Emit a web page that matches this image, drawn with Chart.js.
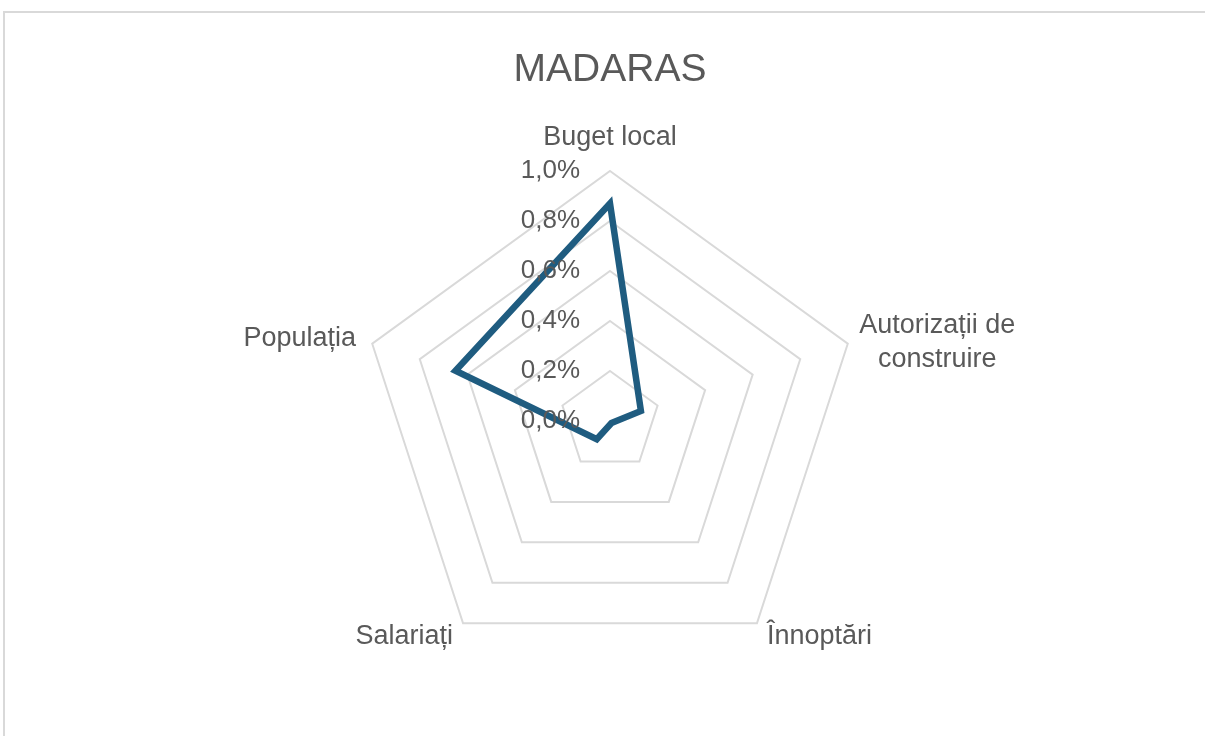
<!DOCTYPE html>
<html>
<head>
<meta charset="utf-8">
<title>MADARAS</title>
<script src="https://cdn.jsdelivr.net/npm/chart.js@4/dist/chart.umd.min.js"></script>
<style>
  html, body { margin: 0; padding: 0; background: #ffffff; overflow: hidden; }
  #frame {
    position: absolute; left: 3px; top: 11px; width: 1300px; height: 800px;
    border-left: 2px solid #d9d9d9; border-top: 2px solid #d9d9d9;
  }
  #chart { position: absolute; left: 0; top: 0; }
</style>
</head>
<body>
<div id="frame"></div>
<canvas id="chart" width="1205" height="736"></canvas>
<script>
// Indicator categories (axis labels, split on lines where they wrap)
const categories = [
  ['Buget local'],
  ['Autorizații de', 'construire'],
  ['Înnoptări'],
  ['Salariați'],
  ['Populația']
];
// Share of the county total, in percent
const madarasValues = [0.87, 0.13, 0.01, 0.09, 0.65];
// Radial axis range and step, in percent
const axisMin = 0;
const axisMax = 1.0;
const axisStep = 0.2;

const textColor = '#595959';
const labelFont = '"Liberation Sans", Arial, sans-serif';

function formatPercent(v) {
  return v.toFixed(1).replace('.', ',') + '%';
}

// Draws the category labels around the web and the percentage ticks on the vertical axis
const radarText = {
  id: 'radarText',
  afterDatasetsDraw(chart) {
    const scale = chart.scales.r;
    const ctx = chart.ctx;
    ctx.save();
    ctx.fillStyle = textColor;

    // category labels
    ctx.font = '27px ' + labelFont;
    const lineH = 34;
    categories.forEach((lines, i) => {
      const multi = lines.length > 1;
      const p = scale.getPointPosition(i, scale.drawingArea + (multi ? 12 : 17));
      const dx = Math.cos(p.angle);
      const blockH = lines.length * lineH;
      let widest = 0;
      lines.forEach(l => { widest = Math.max(widest, ctx.measureText(l).width); });
      let cx, top;
      if (Math.abs(dx) < 0.01) {           // top
        cx = p.x;
        top = p.y + 1 - blockH;
      } else if (dx > 0) {                 // right side
        cx = p.x + widest / 2;
        top = p.y - blockH / 2 + (multi ? 3 : 0);
      } else {                             // left side
        cx = p.x - widest / 2;
        top = p.y - blockH / 2;
      }
      ctx.textAlign = 'center';
      ctx.textBaseline = 'middle';
      lines.forEach((l, k) => {
        ctx.fillText(l, cx, top + lineH * k + lineH / 2);
      });
    });

    // tick labels, right-aligned just left of the vertical axis
    ctx.font = '26px ' + labelFont;
    ctx.textAlign = 'right';
    ctx.textBaseline = 'middle';
    scale.ticks.forEach(t => {
      const d = scale.getDistanceFromCenterForValue(t.value);
      ctx.fillText(formatPercent(t.value), scale.xCenter - 30, scale.yCenter - d);
    });
    ctx.restore();
  }
};

new Chart(document.getElementById('chart'), {
  type: 'radar',
  data: {
    labels: categories,
    datasets: [{
      label: 'MADARAS',
      data: madarasValues,
      borderColor: '#1F5C80',
      borderWidth: 6.5,
      borderJoinStyle: 'miter',
      fill: false,
      pointRadius: 0,
      pointHoverRadius: 0,
      tension: 0
    }]
  },
  options: {
    responsive: false,
    animation: false,
    devicePixelRatio: 1,
    layout: { padding: { left: 360, right: 345, top: 0, bottom: 64 } },
    plugins: {
      legend: { display: false },
      tooltip: { enabled: false },
      title: {
        display: true,
        text: 'MADARAS',
        color: textColor,
        font: { family: labelFont, size: 39, weight: 'normal', lineHeight: 1.2 },
        padding: { top: 47, bottom: 78 }
      }
    },
    scales: {
      r: {
        min: axisMin,
        max: axisMax,
        ticks: { display: false, stepSize: axisStep },
        grid: { circular: false, color: '#d9d9d9', lineWidth: 2 },
        angleLines: { display: false },
        pointLabels: { display: false }
      }
    }
  },
  plugins: [radarText]
});
</script>
</body>
</html>
